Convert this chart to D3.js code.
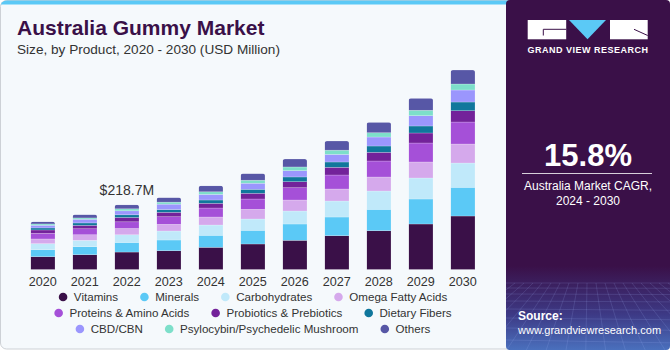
<!DOCTYPE html>
<html>
<head>
<meta charset="utf-8">
<script src="https://cdn.jsdelivr.net/npm/d3@7"></script>
<style>
html,body{margin:0;padding:0;background:#ffffff;}
svg{display:block;font-family:"Liberation Sans",Arial,sans-serif;}
</style>
</head>
<body>
<svg id="chart" width="670" height="350"></svg>
<script>
// ---------- DATA ----------
const years = ["2020","2021","2022","2023","2024","2025","2026","2027","2028","2029","2030"];
const vitamins      = [43.3, 50.0, 59.0, 63.5, 75.0, 86.2, 98.7, 114.2, 131.1, 153.8, 180.8];
const minerals      = [23.7, 27.0, 32.4, 36.2, 40.6, 46.3, 55.1, 63.2, 72.3, 84.5, 97.0];
const carbohydrates = [20.3, 21.6, 26.0, 30.4, 34.8, 38.2, 43.9, 54.1, 61.9, 71.0, 82.1];
const omegaFatty    = [15.9, 18.9, 21.3, 22.6, 27.0, 32.8, 37.2, 40.6, 47.3, 54.1, 64.2];
const proteins      = [19.3, 20.3, 22.6, 25.7, 30.4, 34.8, 41.6, 47.3, 54.1, 64.2, 74.4];
const probiotics    = [11.2, 11.5, 14.5, 14.9, 15.9, 19.3, 20.3, 26.0, 29.4, 33.8, 38.2];
const dietaryFibers = [6.8, 8.1, 9.1, 9.3, 11.2, 13.5, 16.0, 18.0, 21.3, 23.7, 29.4];
const cbd           = [9.1, 12.5, 13.5, 18.3, 19.0, 20.5, 21.3, 25.7, 30.4, 34.8, 40.6];
const psylocybin    = [4.4, 4.4, 6.8, 6.8, 8.8, 10.1, 12.5, 14.2, 14.5, 18.3, 20.3];
const others        = [7.8, 11.2, 13.5, 15.5, 20.3, 22.6, 27.0, 31.1, 35.2, 40.6, 47.3];

const seriesNames = ["Vitamins","Minerals","Carbohydrates","Omega Fatty Acids","Proteins & Amino Acids",
  "Probiotics & Prebiotics","Dietary Fibers","CBD/CBN","Psylocybin/Psychedelic Mushroom","Others"];
const seriesValues = [vitamins, minerals, carbohydrates, omegaFatty, proteins, probiotics, dietaryFibers, cbd, psylocybin, others];
const seriesColors = ["#3a1048","#5bc9f6","#c0e9fa","#d5a9ec","#a550d8","#73229a","#10779c","#9b96fd","#7ddfca","#5757a6"];
const legendRows = [[0,1,2,3],[4,5,6],[7,8,9]];

const annotatedYear = "2022";
const annotationText = "$218.7M";
const titleText = "Australia Gummy Market";
const subtitleText = "Size, by Product, 2020 - 2030 (USD Million)";
const cagrValue = "15.8%";
const cagrLabel1 = "Australia Market CAGR,";
const cagrLabel2 = "2024 - 2030";

// ---------- BUILD ----------
const svg = d3.select("#chart");
const W = 670, H = 350, panelX = 506;
const defs = svg.append("defs");

// main card
defs.append("clipPath").attr("id","cardClip")
  .append("rect").attr("x",0.5).attr("y",0.5).attr("width",540).attr("height",348.5).attr("rx",6);
svg.append("rect").attr("x",0.5).attr("y",0.5).attr("width",540).attr("height",348.5).attr("rx",6)
  .attr("fill","#f5f9fc").attr("stroke","#cdd1d6").attr("stroke-width",1);
svg.append("rect").attr("clip-path","url(#cardClip)").attr("x",0).attr("y",0).attr("width",540).attr("height",4.5)
  .attr("fill","#5bc9f6");

// title
svg.append("text").attr("x",17).attr("y",35).attr("font-size",21).attr("font-weight","bold")
  .attr("fill","#3a1048").text(titleText);
svg.append("text").attr("x",17).attr("y",54).attr("font-size",13.6).attr("fill","#333")
  .text(subtitleText);

// table
const table = years.map((yr,i)=>{
  const o = {year: yr};
  seriesNames.forEach((s,j)=>{ o[s] = seriesValues[j][i]; });
  return o;
});
const stack = d3.stack().keys(seriesNames)(table);

const x = d3.scaleBand().domain(years).range([21.85, 483.85]).paddingInner(0.42).paddingOuter(0.21);
const baseY = 269.5;
const y = d3.scaleLinear().domain([0, 700]).range([baseY, baseY - 700/3.38]);

const totals = table.map(d => d3.sum(seriesNames, s => d[s]));

// bars
const barG = svg.append("g");
years.forEach((yr,i)=>{
  const id = "bc"+i;
  defs.append("clipPath").attr("id",id).append("rect")
    .attr("x",x(yr)).attr("y",y(totals[i])).attr("width",x.bandwidth())
    .attr("height",baseY - y(totals[i]) + 3).attr("rx",2.5);
  const g = barG.append("g").attr("clip-path",`url(#${id})`);
  stack.forEach((layer,j)=>{
    const d = layer[i];
    g.append("rect").attr("x",x(yr)).attr("y",y(d[1])).attr("width",x.bandwidth())
      .attr("height",Math.max(0,y(d[0])-y(d[1])))
      .attr("fill",seriesColors[j])
      .attr("stroke","rgba(255,255,255,0.35)").attr("stroke-width",0.6);
  });
});

// axis
const xAxis = d3.axisBottom(x).tickSize(0).tickPadding(6);
const ax = svg.append("g").attr("transform",`translate(0,${baseY+2})`).call(xAxis);
ax.select(".domain").remove();
ax.selectAll("text").attr("font-size",12.6).attr("fill","#333").attr("font-family","Liberation Sans, Arial, sans-serif");

// annotation
const ai = years.indexOf(annotatedYear);
svg.append("text").attr("x",x(annotatedYear)+x.bandwidth()/2).attr("y",y(totals[ai])-10)
  .attr("text-anchor","middle").attr("font-size",14).attr("fill","#333").text(annotationText);

// legend
const legendCenter = 253, rowY = [297, 313, 329], r = 4.3, gapTxt = 6.5, gapItem = 22;
legendRows.forEach((row,ri)=>{
  const g = svg.append("g");
  let cx = 0;
  row.forEach((si)=>{
    g.append("circle").attr("cx",cx + r).attr("cy",rowY[ri]).attr("r",r).attr("fill",seriesColors[si]);
    const t = g.append("text").attr("x",cx + 2*r + gapTxt).attr("y",rowY[ri]+4)
      .attr("font-size",11.6).attr("fill","#333").text(seriesNames[si]);
    cx += 2*r + gapTxt + t.node().getComputedTextLength() + gapItem;
  });
  const wRow = cx - gapItem;
  g.attr("transform",`translate(${legendCenter - wRow/2},0)`);
});

// ---------- RIGHT PANEL ----------
const grad = defs.append("linearGradient").attr("id","pg").attr("x1",0).attr("y1",0).attr("x2",0).attr("y2",1);
grad.append("stop").attr("offset","0").attr("stop-color","#3a1048");
grad.append("stop").attr("offset","0.76").attr("stop-color","#3a1048");
grad.append("stop").attr("offset","0.9").attr("stop-color","#3d3a86");
grad.append("stop").attr("offset","1").attr("stop-color","#4a70bd");
defs.append("clipPath").attr("id","panelClip").append("rect")
  .attr("x",panelX).attr("y",0).attr("width",W-panelX).attr("height",H).attr("rx",4);
const pg = svg.append("g").attr("clip-path","url(#panelClip)");
pg.append("rect").attr("x",panelX).attr("y",0).attr("width",W-panelX).attr("height",H).attr("fill","url(#pg)");
// perspective grid
const gridG = pg.append("g").attr("stroke","rgba(170,190,255,0.22)").attr("stroke-width",0.7).attr("fill","none");
[283,288,294,301,309,318,328,340].forEach(yy=>{
  gridG.append("line").attr("x1",panelX).attr("x2",W).attr("y1",yy).attr("y2",yy+(yy-283)*0.05);
});
d3.range(-10,22).forEach(k=>{
  const xt = panelX + k*9;
  gridG.append("line").attr("x1",xt).attr("y1",283).attr("x2",panelX + (xt-panelX-82)*2.2 + 82).attr("y2",H);
});

// logo
const lg = svg.append("g");
lg.append("rect").attr("x",527.7).attr("y",20).attr("width",38.5).attr("height",19.3).attr("fill","#fff");
lg.append("path").attr("d","M569,20 L606,20 L587.5,39.3 Z").attr("fill","#5bc9f6");
lg.append("rect").attr("x",610).attr("y",20).attr("width",37.7).attr("height",19.3).attr("fill","#fff");
lg.append("path").attr("d","M566.2,29.3 L543.3,29.3 L543.3,35.5").attr("stroke","#3a1048").attr("stroke-width",1).attr("fill","none");
lg.append("path").attr("d","M634,29.3 L647.7,35.5").attr("stroke","#3a1048").attr("stroke-width",1).attr("fill","none");
svg.append("text").attr("x",588).attr("y",53).attr("text-anchor","middle").attr("font-size",9)
  .attr("font-weight","bold").attr("letter-spacing",0.5).attr("fill","#fff").text("GRAND VIEW RESEARCH");

svg.append("text").attr("x",588).attr("y",166).attr("text-anchor","middle").attr("font-size",31)
  .attr("font-weight","bold").attr("fill","#fff").text(cagrValue);
svg.append("line").attr("x1",522).attr("x2",652).attr("y1",173.5).attr("y2",173.5)
  .attr("stroke","rgba(255,255,255,0.8)").attr("stroke-width",1);
svg.append("text").attr("x",588).attr("y",190).attr("text-anchor","middle").attr("font-size",12)
  .attr("fill","#fff").text(cagrLabel1);
svg.append("text").attr("x",588).attr("y",205).attr("text-anchor","middle").attr("font-size",12)
  .attr("fill","#fff").text(cagrLabel2);
svg.append("text").attr("x",518).attr("y",320).attr("font-size",12).attr("font-weight","bold")
  .attr("fill","#fff").text("Source:");
svg.append("text").attr("x",518).attr("y",333.5).attr("font-size",11).attr("fill","#fff")
  .text("www.grandviewresearch.com");
</script>
</body>
</html>
